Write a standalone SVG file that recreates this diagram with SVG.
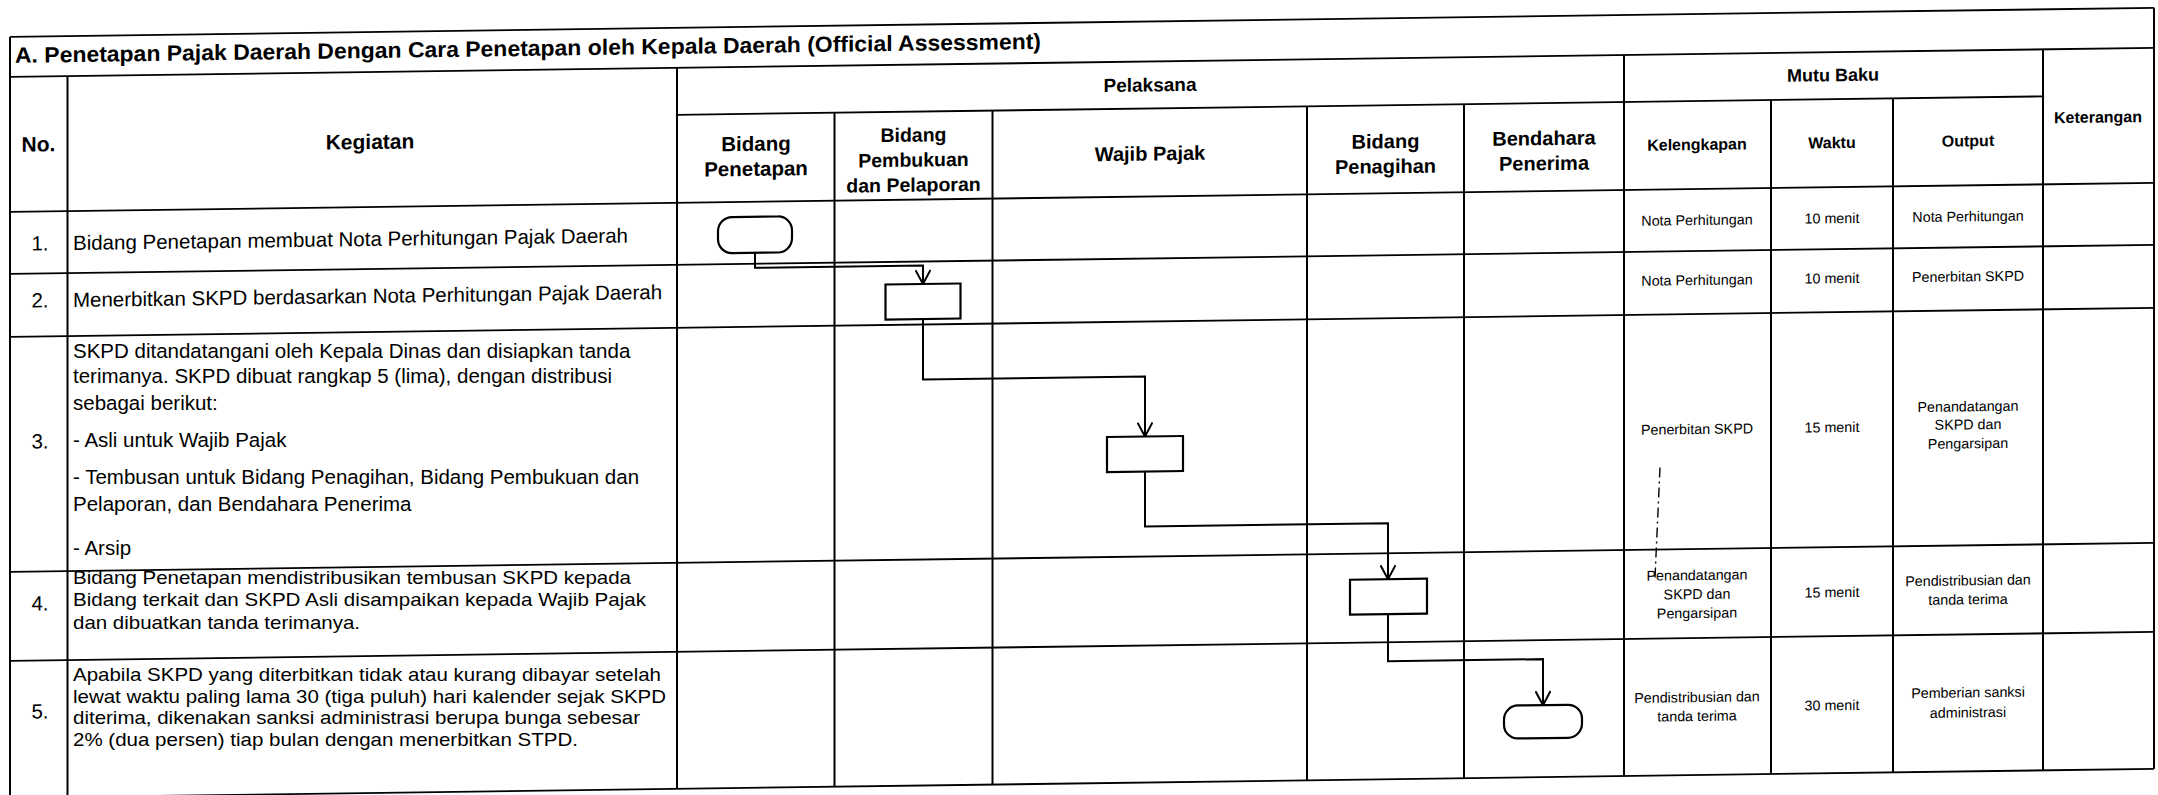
<svg xmlns="http://www.w3.org/2000/svg" width="2158" height="795" viewBox="0 0 2158 795">
<style>
.grid line{stroke:#000;stroke-width:2}
.grid line.h{stroke-width:1.8}
text{font-family:"Liberation Sans",Arial,sans-serif;fill:#000}
.hd{font-weight:bold;text-anchor:middle}
.t{font-size:20.5px}
.u{font-size:19px}
.n{font-size:20.5px;text-anchor:middle}
.s{font-size:14.3px;text-anchor:middle}
.shape{fill:#fff;stroke:#000;stroke-width:2.2}
.conn path{fill:none;stroke:#000;stroke-width:2}
</style>
<defs>
<marker id="arr" viewBox="0 0 16 16" refX="15" refY="8" markerWidth="16" markerHeight="16" orient="auto" markerUnits="userSpaceOnUse">
<path d="M1,0.5 L15,8 L1,15.5" fill="none" stroke="#000" stroke-width="2"/>
</marker>
</defs>
<rect width="2158" height="795" fill="#fff"/>
<g transform="skewY(-0.775)">
<g id="table" class="grid">
<line class="h" x1="10" y1="37" x2="2154" y2="37"/>
<line class="h" x1="10" y1="77" x2="2154" y2="77"/>
<line class="h" x1="677" y1="124" x2="2043" y2="124"/>
<line class="h" x1="10" y1="212" x2="2154" y2="212"/>
<line class="h" x1="10" y1="274" x2="2154" y2="274"/>
<line class="h" x1="10" y1="337" x2="2154" y2="337"/>
<line class="h" x1="10" y1="572" x2="2154" y2="572"/>
<line class="h" x1="10" y1="661" x2="2154" y2="661"/>
<line class="h" x1="10" y1="798" x2="2154" y2="798"/>
<line x1="10" y1="37" x2="10" y2="798"/>
<line x1="2154" y1="37" x2="2154" y2="798"/>
<line x1="67.5" y1="77" x2="67.5" y2="798"/>
<line x1="677" y1="77" x2="677" y2="798"/>
<line x1="834.5" y1="124" x2="834.5" y2="798"/>
<line x1="992.5" y1="124" x2="992.5" y2="798"/>
<line x1="1307" y1="124" x2="1307" y2="798"/>
<line x1="1464" y1="124" x2="1464" y2="798"/>
<line x1="1624" y1="77" x2="1624" y2="798"/>
<line x1="1771" y1="124" x2="1771" y2="798"/>
<line x1="1893" y1="124" x2="1893" y2="798"/>
<line x1="2043" y1="77" x2="2043" y2="798"/>
<line x1="1660" y1="490" x2="1655" y2="600" style="stroke-width:1.4;stroke-dasharray:10 4 2 4"/>
</g>
<g id="headers">
<text x="15" y="63" font-size="22" font-weight="bold" textLength="1026" lengthAdjust="spacingAndGlyphs">A. Penetapan Pajak Daerah Dengan Cara Penetapan oleh Kepala Daerah (Official Assessment)</text>
<text class="hd" x="38.5" y="152" font-size="21">No.</text>
<text class="hd" x="370" y="154" font-size="21">Kegiatan</text>
<text class="hd" x="1150" y="107" font-size="19">Pelaksana</text>
<text class="hd" x="1833" y="106" font-size="18">Mutu Baku</text>
<text class="hd" x="2098" y="151" font-size="16">Keterangan</text>
<text class="hd" x="756" y="161" font-size="20.5">Bidang</text>
<text class="hd" x="756" y="186" font-size="20.5">Penetapan</text>
<text class="hd" x="913.5" y="154" font-size="19.5">Bidang</text>
<text class="hd" x="913.5" y="179" font-size="19.5">Pembukuan</text>
<text class="hd" x="913.5" y="204" font-size="19.5">dan Pelaporan</text>
<text class="hd" x="1150" y="176" font-size="20">Wajib Pajak</text>
<text class="hd" x="1385.5" y="167" font-size="20">Bidang</text>
<text class="hd" x="1385.5" y="192" font-size="20">Penagihan</text>
<text class="hd" x="1544" y="166" font-size="20">Bendahara</text>
<text class="hd" x="1544" y="191" font-size="20">Penerima</text>
<text class="hd" x="1697" y="173" font-size="16">Kelengkapan</text>
<text class="hd" x="1832" y="173" font-size="16">Waktu</text>
<text class="hd" x="1968" y="173" font-size="16">Output</text>
</g>
<g id="row1">
<text class="n" x="40" y="251">1.</text>
<text class="t" x="73" y="251">Bidang Penetapan membuat Nota Perhitungan Pajak Daerah</text>
<text class="s" x="1697" y="248">Nota Perhitungan</text>
<text class="s" x="1832" y="248">10 menit</text>
<text class="s" x="1968" y="248">Nota Perhitungan</text>
</g>
<g id="row2">
<text class="n" x="40" y="308">2.</text>
<text class="t" x="73" y="308">Menerbitkan SKPD berdasarkan Nota Perhitungan Pajak Daerah</text>
<text class="s" x="1697" y="308">Nota Perhitungan</text>
<text class="s" x="1832" y="308">10 menit</text>
<text class="s" x="1968" y="308">Penerbitan SKPD</text>
</g>
<g id="row3">
<text class="n" x="40" y="449">3.</text>
<text class="s" x="1697" y="457">Penerbitan SKPD</text>
<text class="s" x="1832" y="457">15 menit</text>
<text class="s" x="1968" y="438">Penandatangan</text>
<text class="s" x="1968" y="456">SKPD dan</text>
<text class="s" x="1968" y="475">Pengarsipan</text>
</g>
<g id="row4">
<text class="n" x="40" y="611">4.</text>
<text class="s" x="1697" y="603">Penandatangan</text>
<text class="s" x="1697" y="622">SKPD dan</text>
<text class="s" x="1697" y="641">Pengarsipan</text>
<text class="s" x="1832" y="622">15 menit</text>
<text class="s" x="1968" y="612">Pendistribusian dan</text>
<text class="s" x="1968" y="631">tanda terima</text>
</g>
<g id="row5">
<text class="n" x="40" y="719">5.</text>
<text class="s" x="1697" y="725">Pendistribusian dan</text>
<text class="s" x="1697" y="744">tanda terima</text>
<text class="s" x="1832" y="735">30 menit</text>
<text class="s" x="1968" y="724">Pemberian sanksi</text>
<text class="s" x="1968" y="744">administrasi</text>
</g>
<g id="connectors" class="conn">
<path d="M755,263 V278 H923 V296.5" marker-end="url(#arr)"/>
<path d="M923,331.5 V392 H1145 V452" marker-end="url(#arr)"/>
<path d="M1145,487 V542 H1388 V598" marker-end="url(#arr)"/>
<path d="M1388,633 V680 H1543 V726" marker-end="url(#arr)"/>
</g>
<g id="start"><rect class="shape" x="718" y="227" width="74" height="36" rx="14"/></g>
<g id="box2"><rect class="shape" x="885.5" y="296.5" width="75" height="35"/></g>
<g id="box3"><rect class="shape" x="1107" y="452" width="76" height="35"/></g>
<g id="box4"><rect class="shape" x="1350" y="598" width="77" height="35"/></g>
<g id="end"><rect class="shape" x="1504" y="726" width="78" height="33" rx="14"/></g>
</g>
<g id="row3-text">
<text class="t" x="73" y="358.4">SKPD ditandatangani oleh Kepala Dinas dan disiapkan tanda</text>
<text class="t" x="73" y="383.4">terimanya. SKPD dibuat rangkap 5 (lima), dengan distribusi</text>
<text class="t" x="73" y="410">sebagai berikut:</text>
<text class="t" x="73" y="446.5">- Asli untuk Wajib Pajak</text>
<text class="t" x="73" y="484.2">- Tembusan untuk Bidang Penagihan, Bidang Pembukuan dan</text>
<text class="t" x="73" y="510.7">Pelaporan, dan Bendahara Penerima</text>
<text class="t" x="73" y="554.6">- Arsip</text>
</g>
<g id="row4-text">
<text class="u" x="73" y="584.2" textLength="558" lengthAdjust="spacingAndGlyphs">Bidang Penetapan mendistribusikan tembusan SKPD kepada</text>
<text class="u" x="73" y="605.6" textLength="573" lengthAdjust="spacingAndGlyphs">Bidang terkait dan SKPD Asli disampaikan kepada Wajib Pajak</text>
<text class="u" x="73" y="629.1" textLength="287" lengthAdjust="spacingAndGlyphs">dan dibuatkan tanda terimanya.</text>
</g>
<g id="row5-text">
<text class="u" x="73" y="681" textLength="588" lengthAdjust="spacingAndGlyphs">Apabila SKPD yang diterbitkan tidak atau kurang dibayar setelah</text>
<text class="u" x="73" y="702.5" textLength="593" lengthAdjust="spacingAndGlyphs">lewat waktu paling lama 30 (tiga puluh) hari kalender sejak SKPD</text>
<text class="u" x="73" y="724.2" textLength="567" lengthAdjust="spacingAndGlyphs">diterima, dikenakan sanksi administrasi berupa bunga sebesar</text>
<text class="u" x="73" y="746.1" textLength="505" lengthAdjust="spacingAndGlyphs">2% (dua persen) tiap bulan dengan menerbitkan STPD.</text>
</g>
</svg>
